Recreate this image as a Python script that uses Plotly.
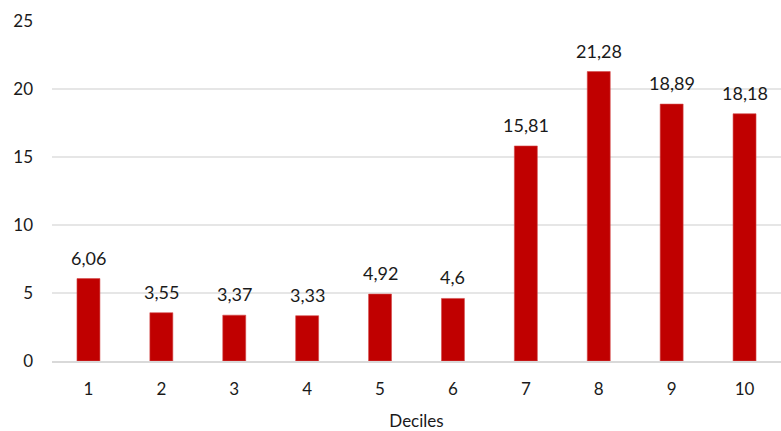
import plotly.graph_objects as go

# Share by decile
deciles = ["1", "2", "3", "4", "5", "6", "7", "8", "9", "10"]
values = [6.06, 3.55, 3.37, 3.33, 4.92, 4.6, 15.81, 21.28, 18.89, 18.18]
y_ticks = [0, 5, 10, 15, 20, 25]

labels = [f"{v:g}".replace(".", ",") for v in values]

FONT = "Lato, 'Open Sans', sans-serif"

fig = go.Figure(
    go.Bar(
        x=deciles,
        y=values,
        marker=dict(color="#C00000", line=dict(color="#d44a4a", width=0.6)),
        hoverinfo="skip",
    )
)

# value labels above each bar (category axis: position by index)
for i, (v, lab) in enumerate(zip(values, labels)):
    fig.add_annotation(
        x=i,
        y=v,
        xref="x",
        yref="y",
        text=lab,
        showarrow=False,
        yanchor="bottom",
        yshift=8,
        font=dict(family=FONT, size=18, color="#1a1a1a"),
    )

fig.update_layout(
    width=781,
    height=431,
    margin=dict(l=52, r=0, t=21, b=70),
    paper_bgcolor="white",
    plot_bgcolor="white",
    bargap=0.685,
    showlegend=False,
    font=dict(family=FONT, size=17, color="#1a1a1a"),
    xaxis=dict(
        type="category",
        range=[-0.5, 9.5],
        showgrid=False,
        showline=True,
        linecolor="#d9d9d9",
        linewidth=2,
        ticks="",
        ticklabelstandoff=12,
        tickfont=dict(size=17),
        title=dict(text="Deciles", font=dict(size=17), standoff=18),
    ),
    yaxis=dict(
        range=[0, 25],
        tickvals=y_ticks,
        ticktext=[str(t) for t in y_ticks],
        showgrid=True,
        gridcolor="#e6e6e6",
        gridwidth=2,
        zeroline=False,
        showline=False,
        ticks="",
        ticklabelstandoff=18,
        tickfont=dict(size=17),
    ),
)

fig.write_html("out.html")
